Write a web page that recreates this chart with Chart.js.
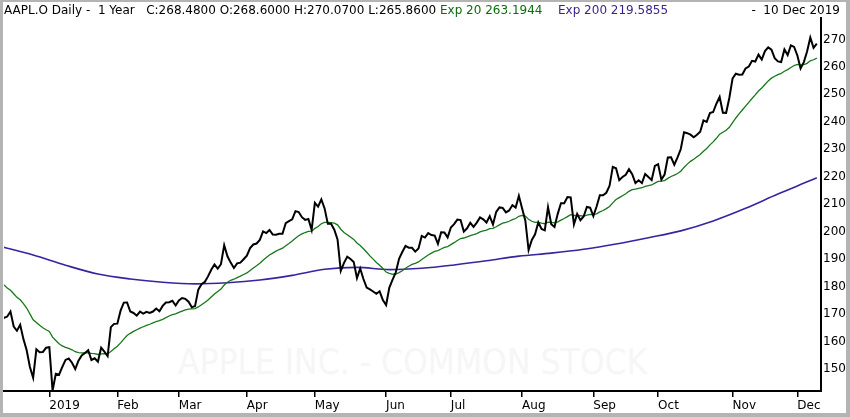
<!DOCTYPE html>
<html>
<head>
<meta charset="utf-8">
<script src="https://cdn.jsdelivr.net/npm/chart.js@4/dist/chart.umd.min.js"></script>
<style>
  html, body { margin: 0; padding: 0; background: #fff; }
  #wrap { position: relative; width: 850px; height: 417px; overflow: hidden; font-family: "DejaVu Sans", sans-serif; }
  #wm { position: absolute; left: 0; width: 825px; top: 342px; text-align: center;
        font-family: "DejaVu Sans Condensed", "DejaVu Sans", sans-serif; font-size: 35px; color: #f6f6f6; white-space: pre; }
  canvas { position: absolute; left: 0; top: 0; }
  .hd { position: absolute; top: 3px; font-size: 12px; white-space: pre; line-height: 14px; }
  #frame { position: absolute; left: 0; top: 0; width: 850px; height: 417px; box-sizing: border-box;
           border-style: solid; border-color: #b4b4b4; border-width: 2px 4px 4px 3px; pointer-events: none; }
</style>
</head>
<body>
<div id="wrap">
  <div id="wm">APPLE INC. - COMMON STOCK</div>
  <canvas id="chart" width="850" height="417"></canvas>
  <div class="hd" style="left:4px;color:#000">AAPL.O Daily -  1 Year   C:268.4800 O:268.6000 H:270.0700 L:265.8600</div>
  <div class="hd" style="left:440px;color:#0b6e0b">Exp 20 263.1944</div>
  <div class="hd" style="left:558px;color:#3b1f8c">Exp 200 219.5855</div>
  <div class="hd" style="right:10px;color:#000">-  10 Dec 2019</div>
  <div id="frame"></div>
</div>
<script>
// daily closes, 10 Dec 2018 .. 10 Dec 2019 (one per trading day)
const closes = [
  169.60,168.63,169.10,170.95,165.48,163.94,166.07,160.89,156.83,150.73,146.83,157.17,156.15,156.23,157.74,
  157.92,142.19,148.26,147.93,150.75,153.31,153.80,152.29,150.00,153.07,154.94,155.86,156.82,153.30,153.92,152.70,157.76,156.30,154.68,165.25,166.44,
  166.52,171.25,174.18,174.24,170.94,170.41,169.43,170.89,170.18,170.80,170.42,170.93,172.03,171.06,172.97,174.23,174.33,174.87,173.15,
  174.97,175.85,175.53,174.52,172.50,172.91,178.90,180.91,181.71,183.73,186.12,188.02,186.53,188.16,195.09,191.05,188.74,186.79,188.47,188.72,189.95,
  191.24,194.02,195.35,195.69,197.00,200.10,199.50,200.62,198.95,198.87,199.23,199.25,203.13,203.86,204.53,207.48,207.16,205.28,204.30,204.61,200.67,
  210.52,209.15,211.75,208.48,202.86,202.90,200.72,197.18,185.72,188.66,190.92,190.08,189.00,183.09,186.60,182.78,179.66,178.97,178.23,177.38,178.30,175.07,
  173.30,179.64,182.54,185.22,190.15,192.58,194.81,194.19,194.15,192.74,193.89,198.45,197.87,199.46,198.78,198.58,195.57,199.80,199.74,197.92,
  201.55,202.73,204.41,204.23,200.02,201.24,203.23,201.75,203.30,205.21,204.50,203.35,205.66,202.59,207.22,208.84,208.67,207.02,207.74,209.68,208.78,213.04,
  208.43,204.02,193.34,197.00,199.04,203.43,200.99,200.48,208.97,202.75,201.74,206.50,210.35,210.36,212.64,212.46,202.64,206.49,204.16,205.53,209.01,208.74,
  205.70,209.19,213.28,213.26,214.17,216.70,223.59,223.09,218.75,219.90,220.70,222.77,220.96,217.73,218.72,217.68,221.03,219.89,218.82,223.97,
  224.59,218.96,220.82,227.01,227.06,224.40,227.03,230.09,236.21,235.87,235.32,234.37,235.28,236.41,240.51,239.96,243.18,243.58,246.58,249.05,243.29,243.26,248.76,
  255.82,257.50,257.13,257.24,259.43,260.14,262.20,261.96,264.47,262.64,265.76,267.10,266.29,263.19,262.01,261.78,266.37,264.29,267.84,267.25,
  264.16,259.45,261.74,265.58,270.71,266.92,268.48
];

// Exp 20 (green), one value per trading day
const ema20 = [
  181.8,180.6,179.5,178.7,177.4,176.1,175.2,173.8,172.2,170.1,
  167.9,166.9,165.9,165.0,164.3,163.7,161.6,160.4,159.2,158.4,
  157.9,157.5,157.0,156.3,156.0,155.9,155.9,156.0,155.7,155.6,
  155.3,155.5,155.6,155.5,156.4,157.4,158.3,159.5,160.9,162.2,
  163.0,163.7,164.3,164.9,165.4,165.9,166.3,166.8,167.3,167.6,
  168.1,168.7,169.3,169.8,170.1,170.6,171.1,171.5,171.8,171.9,
  172.0,172.6,173.4,174.2,175.1,176.2,177.3,178.2,179.1,180.6,
  181.6,182.3,182.7,183.3,183.8,184.4,185.0,185.9,186.8,187.6,
  188.5,189.6,190.6,191.5,192.2,192.9,193.5,194.0,194.9,195.7,
  196.6,197.6,198.5,199.2,199.7,200.1,200.2,201.2,201.9,202.9,
  203.4,203.4,203.3,203.1,202.5,200.9,199.7,198.9,198.1,197.2,
  195.9,195.0,193.8,192.5,191.2,190.0,188.8,187.8,186.6,185.3,
  184.8,184.5,184.6,185.1,185.8,186.7,187.4,188.1,188.5,189.0,
  189.9,190.7,191.5,192.2,192.8,193.1,193.7,194.3,194.6,195.3,
  196.0,196.8,197.5,197.7,198.1,198.6,198.9,199.3,199.9,200.3,
  200.6,201.1,201.2,201.8,202.5,203.1,203.4,203.8,204.4,204.8,
  205.6,205.9,205.7,204.5,203.8,203.4,203.4,203.1,202.9,203.5,
  203.4,203.2,203.6,204.2,204.8,205.5,206.2,205.9,205.9,205.8,
  205.7,206.0,206.3,206.2,206.5,207.2,207.7,208.4,209.2,210.5,
  211.7,212.4,213.1,213.8,214.7,215.3,215.5,215.8,216.0,216.5,
  216.8,217.0,217.7,218.3,218.4,218.6,219.4,220.1,220.6,221.2,
  222.0,223.4,224.6,225.6,226.4,227.3,228.1,229.3,230.3,231.6,
  232.7,234.0,235.5,236.2,236.9,238.0,239.7,241.4,242.9,244.3,
  245.7,247.1,248.5,249.8,251.2,252.3,253.6,254.9,255.9,256.6,
  257.2,257.6,258.4,259.0,259.8,260.5,260.9,260.7,260.8,261.3,
  262.2,262.6,263.2
];

// Exp 200 (purple), read every 10 trading days
const ema200Days = [0,10,20,30,40,50,60,70,80,90,100,110,120,130,140,150,160,170,180,190,200,210,220,230,240,250,252];
const ema200 = [194.6,191.5,187.8,184.6,182.8,181.6,181.0,181.4,182.4,184.1,186.3,187.0,186.2,186.7,187.9,189.4,191.1,192.2,193.6,195.5,197.8,200.3,203.9,208.5,213.7,218.6,219.6];

// first trading day of each month
const monthDays = [15,36,55,76,97,119,139,161,183,203,226,246];
const monthLabels = ['2019','Feb','Mar','Apr','May','Jun','Jul','Aug','Sep','Oct','Nov','Dec'];
const yTicks = [150,160,170,180,190,200,210,220,230,240,250,260,270];

Chart.defaults.font.family = '"DejaVu Sans", sans-serif';
Chart.defaults.font.size = 12;
Chart.defaults.color = '#000';

const ctx = document.getElementById('chart').getContext('2d');
new Chart(ctx, {
  type: 'line',
  data: {
    datasets: [
      {
        label: 'Close',
        data: closes.map((v, i) => ({x: i, y: v})),
        borderColor: '#000',
        borderWidth: 2,
        pointRadius: 0,
        tension: 0,
        order: 0
      },
      {
        label: 'Exp 20',
        data: ema20.map((v, i) => ({x: i, y: v})),
        borderColor: '#17771a',
        borderWidth: 1.3,
        pointRadius: 0,
        tension: 0,
        order: 1
      },
      {
        label: 'Exp 200',
        data: ema200.map((v, i) => ({x: ema200Days[i], y: v})),
        borderColor: '#3a22a0',
        borderWidth: 1.6,
        pointRadius: 0,
        cubicInterpolationMode: 'monotone',
        order: 2
      }
    ]
  },
  options: {
    responsive: false,
    animation: false,
    events: [],
    layout: { padding: { left: 4, top: 18, right: 0, bottom: 0 } },
    plugins: {
      legend: { display: false },
      tooltip: { enabled: false }
    },
    scales: {
      x: {
        type: 'linear',
        position: 'bottom',
        min: 1,
        max: 253.3,
        afterBuildTicks: (scale) => { scale.ticks = monthDays.map(v => ({value: v})); },
        afterFit: (scale) => { scale.height = 26; },
        ticks: {
          autoSkip: false,
          maxRotation: 0,
          align: 'start',
          padding: 2,
          callback: (value, index) => monthLabels[index]
        },
        grid: {
          drawOnChartArea: false,
          drawTicks: true,
          tickLength: 6,
          color: '#000',
          lineWidth: 1.5
        },
        border: { display: true, color: '#000', width: 2 }
      },
      y: {
        type: 'linear',
        position: 'right',
        min: 142,
        max: 277.8,
        afterBuildTicks: (scale) => { scale.ticks = yTicks.map(v => ({value: v})); },
        afterFit: (scale) => { scale.width = 29; },
        ticks: {
          padding: 2,
          callback: (value) => String(value)
        },
        grid: { display: false, drawTicks: false },
        border: { display: true, color: '#000', width: 2 }
      }
    }
  }
});
</script>
</body>
</html>
